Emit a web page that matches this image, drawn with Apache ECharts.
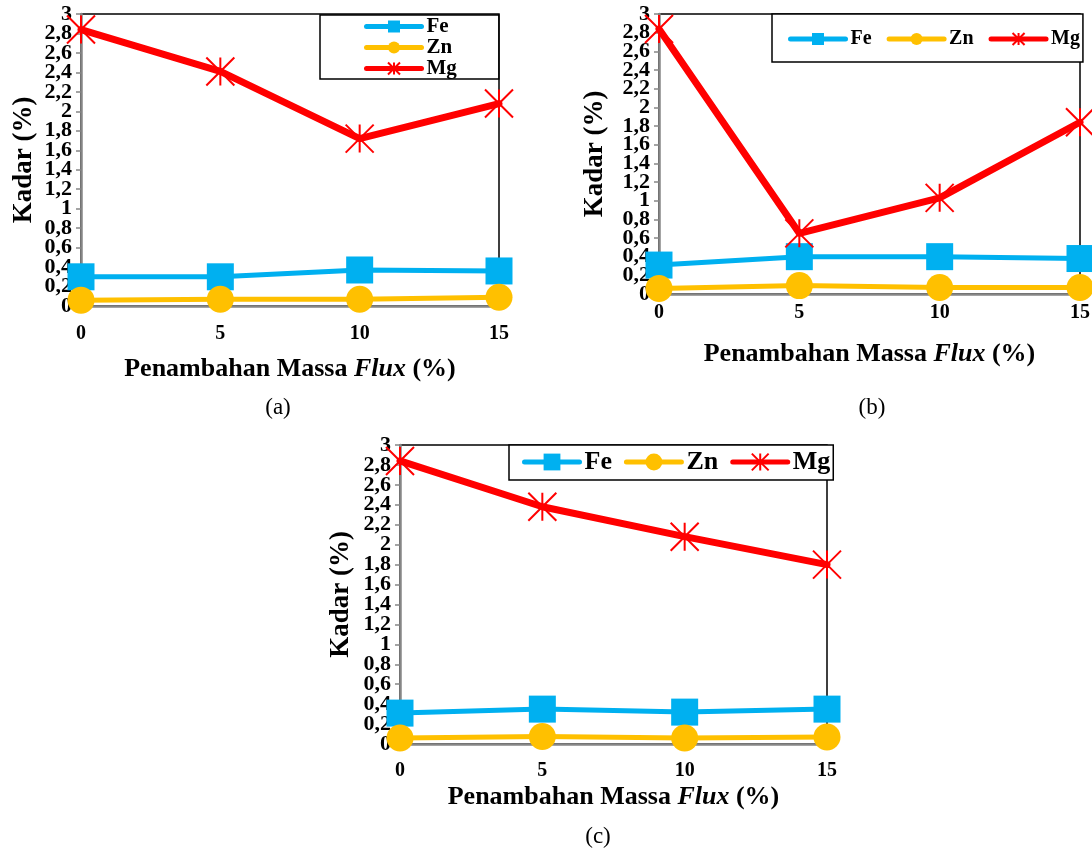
<!DOCTYPE html>
<html><head><meta charset="utf-8">
<script src="https://cdn.jsdelivr.net/npm/echarts@6/dist/echarts.min.js"></script>
<style>html,body{margin:0;padding:0;background:#fff}#c{width:1092px;height:850px}</style>
</head><body><div id="c"></div>
<script>
// ---- data ----
const fluxMass = [0, 5, 10, 15];
const xTickLabels = ['0', '5', '10', '15'];
const yTickLabels = ['0','0,2','0,4','0,6','0,8','1','1,2','1,4','1,6','1,8','2','2,2','2,4','2,6','2,8','3'];
const seriesNames = ['Fe', 'Zn', 'Mg'];
const feA = [0.30, 0.30, 0.37, 0.36];
const znA = [0.06, 0.07, 0.07, 0.09];
const mgA = [2.84, 2.41, 1.72, 2.08];
const feB = [0.31, 0.40, 0.40, 0.38];
const znB = [0.06, 0.09, 0.07, 0.07];
const mgB = [2.84, 0.65, 1.03, 1.84];
const feC = [0.31, 0.35, 0.32, 0.35];
const znC = [0.06, 0.075, 0.06, 0.07];
const mgC = [2.84, 2.38, 2.08, 1.80];
const panelCaptions = ['(a)', '(b)', '(c)'];
const yAxisTitle = 'Kadar (%)';

// ---- style/layout ----
const FONT = '"Liberation Serif", "Times New Roman", serif';
const colors = { Fe: '#00b0f0', Zn: '#ffc000', Mg: '#ff0000' };
const panels = [
  { grid: { left: 81, top: 14, width: 418, height: 292 }, data: [feA, znA, mgA],
    xLabelMargin: 18, xNameGap: 50, yNameGap: 43, caption: [278, 408],
    legend: { orient: 'vertical', left: 320, top: 15, padding: [1, 42, 0, 44], itemGap: 0, itemHeight: 15, fontSize: 21, lineHeight: 21 } },
  { grid: { left: 659, top: 14, width: 421, height: 280 }, data: [feB, znB, mgB],
    xLabelMargin: 9, xNameGap: 47, yNameGap: 50, caption: [872, 408],
    legend: { orient: 'horizontal', left: 772, top: 14, padding: [14, 3, 12, 16], itemGap: 15, itemHeight: 15, fontSize: 20, lineHeight: 22 } },
  { grid: { left: 400, top: 445, width: 427, height: 299 }, data: [feC, znC, mgC],
    xLabelMargin: 17, xNameGap: 40, yNameGap: 45, caption: [598, 837],
    legend: { orient: 'horizontal', left: 509, top: 445, padding: [4, 3, 5, 13], itemGap: 12, itemHeight: 21, fontSize: 26, lineHeight: 26 } }
];

const symbols = {
  Fe: { symbol: 'rect', size: 27, width: 5 },
  Zn: { symbol: 'circle', size: 27, width: 5 },
  Mg: { symbol: 'path://M0,0L10,10M10,0L0,10M5,0L5,10', size: 28, width: 7 }
};

const grids = [], xAxes = [], yAxes = [], legends = [], series = [], graphics = [];
panels.forEach((p, gi) => {
  grids.push(Object.assign({ show: true, borderColor: '#000', borderWidth: 1.5, backgroundColor: 'transparent',
    containLabel: false, outerBoundsMode: 'none' }, p.grid));
  xAxes.push({
    type: 'value', gridIndex: gi, min: 0, max: 15, interval: 5,
    axisLine: { lineStyle: { color: '#868686', width: 2.5 } },
    axisTick: { show: true, length: 3, lineStyle: { color: '#868686', width: 1.5 } },
    splitLine: { show: false },
    axisLabel: { margin: p.xLabelMargin, fontFamily: FONT, fontWeight: 'bold', fontSize: 20, color: '#000',
      showMinLabel: true, showMaxLabel: true, hideOverlap: false,
      formatter: v => xTickLabels[fluxMass.indexOf(v)] },
    name: '{b|Penambahan Massa }{i|Flux}{b| (%)}',
    nameLocation: 'middle', nameGap: p.xNameGap,
    nameTextStyle: { rich: {
      b: { fontFamily: FONT, fontWeight: 'bold', fontSize: 26, color: '#000' },
      i: { fontFamily: FONT, fontWeight: 'bold', fontStyle: 'italic', fontSize: 26, color: '#000' } } }
  });
  // value axis: scale for the data, line + ticks
  yAxes.push({
    type: 'value', gridIndex: gi, position: 'left', min: 0, max: 3, interval: 0.2,
    axisLine: { show: true, lineStyle: { color: '#868686', width: 2.5 } },
    axisTick: { show: true, length: 5, lineStyle: { color: '#868686', width: 1.5 } },
    splitLine: { show: false },
    axisLabel: { show: false },
    name: yAxisTitle, nameLocation: 'middle', nameRotate: 90, nameGap: p.yNameGap,
    nameTextStyle: { fontFamily: FONT, fontWeight: 'bold', fontSize: 27, color: '#000' }
  });
  // companion category axis on the same left edge carrying the tick labels (all shown)
  yAxes.push({
    type: 'category', gridIndex: gi, position: 'left', offset: 0, data: yTickLabels, boundaryGap: false,
    axisLine: { show: false }, axisTick: { show: false }, splitLine: { show: false },
    axisLabel: { interval: 0, margin: 9, fontFamily: FONT, fontWeight: 'bold', fontSize: 22, color: '#000' }
  });
  const L = p.legend;
  legends.push({
    orient: L.orient, left: L.left, top: L.top, padding: L.padding, itemGap: L.itemGap,
    itemWidth: 55, itemHeight: L.itemHeight,
    borderColor: '#000', borderWidth: 1.5, borderRadius: 0, backgroundColor: '#fff',
    data: seriesNames,
    lineStyle: { width: 5, cap: 'round' },
    textStyle: { fontFamily: FONT, fontWeight: 'bold', fontSize: L.fontSize, lineHeight: L.lineHeight, color: '#000' }
  });
  seriesNames.forEach((name, si) => {
    const s = symbols[name];
    series.push({
      name, type: 'line', xAxisIndex: gi, yAxisIndex: gi * 2,
      data: fluxMass.map((x, i) => [x, p.data[si][i]]),
      symbol: s.symbol, symbolSize: s.size, showSymbol: true, clip: false,
      lineStyle: { color: colors[name], width: s.width, cap: 'round', join: 'round' },
      itemStyle: { color: colors[name], borderColor: colors[name], borderWidth: name === 'Mg' ? 2 : 0, opacity: 1 },
      emphasis: { disabled: true }, animation: false, z: 3 + si
    });
  });
  graphics.push({
    type: 'text', x: p.caption[0], y: p.caption[1],
    style: { text: panelCaptions[gi], fontFamily: FONT, fontSize: 23, fill: '#000', textAlign: 'center', textVerticalAlign: 'middle' }
  });
});

const chart = echarts.init(document.getElementById('c'), null, { renderer: 'canvas' });
chart.setOption({
  backgroundColor: '#fff', animation: false,
  grid: grids, xAxis: xAxes, yAxis: yAxes, legend: legends, series, graphic: graphics
});
</script></body></html>
